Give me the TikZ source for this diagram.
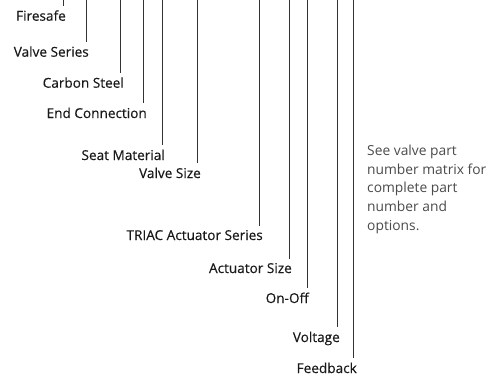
\documentclass[tikz,border=0pt]{standalone}
\usepackage{fontspec}
\setmainfont{Open Sans}
\newfontfamily\labelfont[FakeBold=0.35]{Open Sans}
\usetikzlibrary{positioning}

\definecolor{leadgray}{HTML}{333333}
\definecolor{notegray}{HTML}{4A4A4A}

\tikzset{
  partlabel/.style={anchor=base east,inner sep=0pt,font=\labelfont\fontsize{13.6}{15}\selectfont,text=black!90},
  leader/.style={draw=leadgray,line width=0.8pt},
  notetext/.style={anchor=north west,inner sep=0pt,align=left,font=\fontsize{13.8}{18.6}\selectfont,text=notegray}
}

\begin{document}
\begin{tikzpicture}[x=1pt,y=1pt]
  \useasboundingbox (0,0) rectangle (494,-375);

  % --- valve part of the code ---
  \coordinate (fire-top) at (63,0);
  \node[partlabel] (fire) at (66,-20.7) {Firesafe};
  \coordinate (series-top) at (86,0);
  \node[partlabel] (series) at (89,-56.7) {Valve Series};
  \coordinate (steel-top) at (120,0);
  \node[partlabel] (steel) at (124,-87.7) {Carbon Steel};
  \coordinate (endc-top) at (143,0);
  \node[partlabel] (endc) at (147,-118) {End Connection};
  \coordinate (seat-top) at (162,0);
  \node[partlabel] (seat) at (165,-160) {Seat Material};
  \coordinate (size-top) at (197,0);
  \node[partlabel] (size) at (201,-178) {Valve Size};

  % --- actuator part of the code ---
  \coordinate (triac-top) at (259,0);
  \node[partlabel] (triac) at (263,-240) {TRIAC Actuator Series};
  \coordinate (asize-top) at (289,0);
  \node[partlabel] (asize) at (292,-273) {Actuator Size};
  \coordinate (onoff-top) at (307,0);
  \node[partlabel] (onoff) at (309,-303) {On-Off};
  \coordinate (volt-top) at (337,0);
  \node[partlabel] (volt) at (340,-342) {Voltage};
  \coordinate (feed-top) at (353,0);
  \node[partlabel] (feed) at (357,-373) {Feedback};

  % leaders down to the labels
  \foreach \p in {fire,series,steel,endc,seat,size,triac,asize,onoff,volt,feed}
    \draw[leader] (\p-top) -- ([yshift=4pt]\p-top |- \p.north);

  % note
  \node[notetext] (note) at (367,-145) {See valve part\\number matrix for\\complete part\\number and\\options.};
\end{tikzpicture}
\end{document}
